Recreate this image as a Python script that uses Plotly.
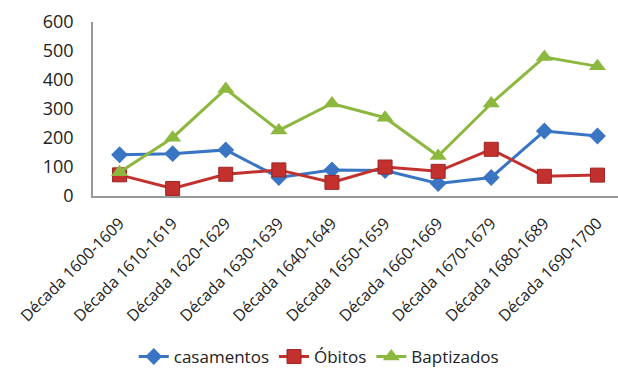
import plotly.graph_objects as go

categories = ["Década 1600-1609", "Década 1610-1619", "Década 1620-1629", "Década 1630-1639",
              "Década 1640-1649", "Década 1650-1659", "Década 1660-1669", "Década 1670-1679",
              "Década 1680-1689", "Década 1690-1700"]
casamentos = [142, 146, 159, 64, 90, 88, 43, 64, 224, 207]
obitos = [73, 26, 75, 90, 47, 100, 85, 161, 68, 72]
baptizados = [82, 201, 369, 226, 319, 270, 138, 319, 479, 447]

fig = go.Figure()
fig.add_trace(go.Scatter(x=categories, y=casamentos, name="casamentos", mode="lines+markers",
                         line=dict(color="#3A75C4", width=3),
                         marker=dict(symbol="diamond", size=13, color="#3A75C4")))
fig.add_trace(go.Scatter(x=categories, y=obitos, name="Óbitos", mode="lines+markers",
                         line=dict(color="#C3312F", width=3),
                         marker=dict(symbol="square", size=14, color="#C3312F",
                                     line=dict(color="#9E2422", width=1))))
fig.add_trace(go.Scatter(x=categories, y=baptizados, name="Baptizados", mode="lines+markers",
                         line=dict(color="#8DB83F", width=3),
                         marker=dict(symbol="triangle-up", size=15, color="#8DB83F")))

fig.update_layout(
    width=618, height=375,
    margin=dict(l=93, r=0, t=22, b=178),
    paper_bgcolor="white", plot_bgcolor="white",
    font=dict(family="Open Sans", color="#222222"),
    showlegend=True,
    legend=dict(orientation="h", x=0.43, xanchor="center", y=-0.92, yanchor="middle",
                font=dict(size=17), itemwidth=30, tracegroupgap=0),
    xaxis=dict(type="category", range=[-0.5, 9.387], tickangle=-45,
               tickfont=dict(size=16), showline=True, linecolor="#999999", linewidth=1.5,
               showgrid=False, ticks="", ticklabelstandoff=10),
    yaxis=dict(range=[0, 600], tickvals=[0, 100, 200, 300, 400, 500, 600],
               tickfont=dict(size=18), showline=True, linecolor="#999999", linewidth=1.5,
               showgrid=False, zeroline=False, ticks="", ticklabelstandoff=14),
)

fig.write_html("out.html")
